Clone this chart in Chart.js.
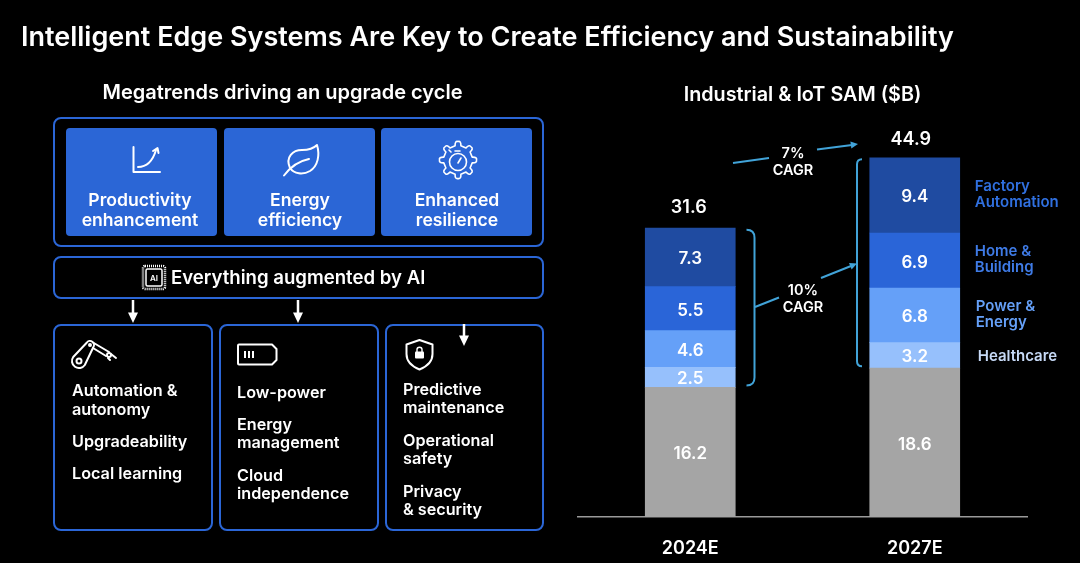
<!DOCTYPE html>
<html>
<head>
<meta charset="utf-8">
<title>Intelligent Edge Systems</title>
<script src="https://cdn.jsdelivr.net/npm/chart.js@4/dist/chart.umd.min.js"></script>
<style>
  html, body { margin: 0; padding: 0; background: #000; }
  #page { position: relative; width: 1080px; height: 563px; overflow: hidden; background: #000; font-family: Inter, sans-serif; color: #fff; font-weight: 600; }
  #page canvas { position: absolute; left: 0; top: 0; }
  #page svg { position: absolute; left: 0; top: 0; }
  .box { position: absolute; box-sizing: border-box; border: 2.5px solid #2b66d6; border-radius: 8px; }
  .tile { position: absolute; background: #2b66d6; border-radius: 4px; top: 128px; width: 151px; height: 107.5px; }
  .t { position: absolute; white-space: nowrap; line-height: 20px; height: 20px; }
  .c { transform: translateX(-50%); text-align: center; }
  .tile-text { font-size: 17.6px; }
  .item { font-size: 16.2px; }
</style>
</head>
<body>
<div id="page">
  <canvas id="chart" width="1080" height="563"></canvas>

  <div class="t" style="left:21px;top:26.500px;font-size:27px">Intelligent Edge Systems Are Key to Create Efficiency and Sustainability</div>
  <div class="t c" style="left:282.500px;top:82px;font-size:20px">Megatrends driving an upgrade cycle</div>

  <div class="box" style="left:53px;top:117px;width:491px;height:130px"></div>
  <div class="tile" style="left:66px"></div>
  <div class="tile" style="left:224px"></div>
  <div class="tile" style="left:381px"></div>
  <div class="t c tile-text" style="left:140px;top:189.500px">Productivity</div>
  <div class="t c tile-text" style="left:140px;top:209.500px">enhancement</div>
  <div class="t c tile-text" style="left:300px;top:189.500px">Energy</div>
  <div class="t c tile-text" style="left:300px;top:209.500px">efficiency</div>
  <div class="t c tile-text" style="left:457px;top:189.500px">Enhanced</div>
  <div class="t c tile-text" style="left:457px;top:209.500px">resilience</div>

  <div class="box" style="left:53px;top:256px;width:491px;height:43px"></div>
  <div class="t" style="left:171px;top:267px;font-size:18.600px">Everything augmented by AI</div>

  <div class="box" style="left:53px;top:324px;width:160px;height:207px"></div>
  <div class="box" style="left:219px;top:324px;width:160px;height:207px"></div>
  <div class="box" style="left:385px;top:324px;width:159px;height:207px"></div>

  <div class="t item" style="left:72px;top:379.500px">Automation &amp;</div>
  <div class="t item" style="left:72px;top:398.500px">autonomy</div>
  <div class="t item" style="left:72px;top:430.500px">Upgradeability</div>
  <div class="t item" style="left:72px;top:462.500px">Local learning</div>

  <div class="t item" style="left:237px;top:381.500px">Low-power</div>
  <div class="t item" style="left:237px;top:413.500px">Energy</div>
  <div class="t item" style="left:237px;top:431.500px">management</div>
  <div class="t item" style="left:237px;top:464.500px">Cloud</div>
  <div class="t item" style="left:237px;top:482.500px">independence</div>

  <div class="t item" style="left:403px;top:378.500px">Predictive</div>
  <div class="t item" style="left:403px;top:396.500px">maintenance</div>
  <div class="t item" style="left:403px;top:429.500px">Operational</div>
  <div class="t item" style="left:403px;top:447.500px">safety</div>
  <div class="t item" style="left:403px;top:480.500px">Privacy</div>
  <div class="t item" style="left:403px;top:498.500px">&amp; security</div>

  <svg id="icons" width="1080" height="563" fill="none" stroke="#fff" stroke-width="2" stroke-linecap="round" stroke-linejoin="round">
    <!-- growth chart -->
    <path d="M133.500 147V172H160"/>
    <path d="M138 167C148 167 153 160 156 150"/>
    <path d="M153 151L157.500 148L158.500 153"/>
    <!-- leaf -->
    <path d="M284 175.500C291 166 299 161 309 159"/>
    <path d="M290 168C285 157 293 150 302 150C309 150 314 148 317 145C320 155 318 166 310 171C303 175 294 174 290 168Z"/>
    <!-- gear with stopwatch -->
    <path id="gear" stroke-width="1.600"/>
    <circle cx="458" cy="162" r="8.500" stroke-width="1.600"/>
    <path d="M458 163L461 158" stroke-width="1.600"/>
    <path d="M455 151H460M451 152L449 150" stroke-width="1.600"/>
    <!-- AI chip -->
    <rect x="146" y="269" width="16" height="17" rx="1.500" stroke-width="1.500"/>
    <rect x="143" y="266" width="22" height="23" rx="2" stroke-width="2.500" stroke-dasharray="1 1" stroke-linecap="butt"/>
    <text x="154" y="281" fill="#fff" stroke="none" font-size="8" text-anchor="middle" font-weight="600">AI</text>
    <!-- robot arm -->
    <path d="M73.200 357L86.700 342.700A4 4 0 0 1 93.300 347.300L84.800 365A7 7 0 0 1 73.200 357Z"/>
    <circle cx="79" cy="361" r="2.500"/>
    <circle cx="90" cy="345" r="1"/>
    <path d="M93 342.500L109 352M93 348L106 356"/>
    <circle cx="109" cy="355" r="2"/>
    <path d="M111 354L116 358M108 358L110 360"/>
    <!-- battery -->
    <path d="M239 344.500H272L276.500 349V360L272 364.500H239Q238 364.500 238 363.500V345.500Q238 344.500 239 344.500Z"/>
    <path d="M245 351V358M249 351V358M253 351V358" stroke-width="2" stroke-linecap="butt"/>
    <!-- shield with lock -->
    <path d="M419.500 340L432.500 344.500V354C432.500 361 427 366.500 419.500 369.500C412 366.500 406.500 361 406.500 354V344.500Z"/>
    <rect x="415" y="351.500" width="9" height="7" rx="1" fill="#fff" stroke="none"/>
    <path d="M417 352V349.500C417 346.500 422 346.500 422 349.500V352" stroke-width="1.400"/>
    <!-- down arrows -->
    <path d="M133 300V313M298 300V313M464 324V336" stroke-width="2.500" stroke-linecap="butt"/>
    <path d="M128 312.500H138L133 323ZM293 312.500H303L298 323ZM459 335.500H469L464 346Z" fill="#fff" stroke="none"/>
  </svg>
</div>

<script>
const categories = ['2024E', '2027E'];
const totals = [31.6, 44.9];
const other = [16.2, 18.6];
const healthcare = [2.5, 3.2];
const powerEnergy = [4.6, 6.8];
const homeBuilding = [5.5, 6.9];
const factoryAutomation = [7.3, 9.4];

const chartTitle = 'Industrial & IoT SAM ($B)';
const FONT = 'Inter, sans-serif';
const BRACKET = '#41a3d8';

// gear outline for the resilience icon
(function drawGear() {
  const cx = 458, cy = 160, teeth = 8;
  let d = '';
  for (let i = 0; i < teeth; i++) {
    const a0 = (i / teeth) * Math.PI * 2 - Math.PI / 2;
    const step = (Math.PI * 2) / teeth;
    const pt = (r, a) => (cx + r * Math.cos(a)).toFixed(1) + ' ' + (cy + r * Math.sin(a)).toFixed(1);
    d += (i === 0 ? 'M' : 'L') + pt(14.5, a0 - step * 0.26);
    d += 'Q' + pt(19.5, a0 - step * 0.2) + ' ' + pt(18.5, a0);
    d += 'Q' + pt(19.5, a0 + step * 0.2) + ' ' + pt(14.5, a0 + step * 0.26);
  }
  document.getElementById('gear').setAttribute('d', d + 'Z');
})();

function line(ctx, x1, y1, x2, y2) {
  ctx.beginPath();
  ctx.moveTo(x1, y1);
  ctx.lineTo(x2, y2);
  ctx.stroke();
}

function arrowHead(ctx, x1, y1, x2, y2) {
  const a = Math.atan2(y2 - y1, x2 - x1);
  ctx.beginPath();
  ctx.moveTo(x2, y2);
  ctx.lineTo(x2 - 8 * Math.cos(a - 0.45), y2 - 8 * Math.sin(a - 0.45));
  ctx.lineTo(x2 - 8 * Math.cos(a + 0.45), y2 - 8 * Math.sin(a + 0.45));
  ctx.closePath();
  ctx.fill();
}

// side = 1 opens to the left, -1 opens to the right
function bracket(ctx, x, top, bottom, side) {
  const r = side > 0 ? 8 : 5;
  ctx.beginPath();
  ctx.moveTo(x - side * r, top);
  ctx.quadraticCurveTo(x, top, x, top + r);
  ctx.lineTo(x, bottom - r);
  ctx.quadraticCurveTo(x, bottom, x - side * r, bottom);
  ctx.stroke();
}

const annotations = {
  id: 'annotations',
  afterDatasetsDraw(chart) {
    const ctx = chart.ctx;
    const y = chart.scales.y;
    ctx.save();
    ctx.textAlign = 'center';
    ctx.textBaseline = 'middle';

    // segment values
    ctx.fillStyle = '#fff';
    ctx.font = '600 17px ' + FONT;
    chart.data.datasets.forEach((ds, d) => {
      chart.getDatasetMeta(d).data.forEach((bar, i) => {
        const p = bar.getCenterPoint();
        ctx.fillText(ds.data[i].toFixed(1), p.x, p.y + 2);
      });
    });

    // totals above the stacks
    ctx.font = '600 18px ' + FONT;
    const topMeta = chart.getDatasetMeta(chart.data.datasets.length - 1);
    totals.forEach((v, i) => {
      const bar = topMeta.data[i];
      ctx.fillText(v.toFixed(1), bar.x - (i ? 4 : 1.5), bar.y - (i ? 18 : 21));
    });

    // segment names beside the 2027 stack
    ctx.textAlign = 'left';
    ctx.font = '600 15px ' + FONT;
    chart.data.datasets.forEach((ds, d) => {
      if (!ds.nameLines) return;
      const bar = chart.getDatasetMeta(d).data[1];
      const p = bar.getCenterPoint();
      const x = bar.x + 60;
      ctx.fillStyle = ds.nameColor;
      ds.nameLines.forEach((txt, k) => {
        const off = (k - (ds.nameLines.length - 1) / 2) * 16.5;
        ctx.fillText(txt, x + ds.nameShift, p.y + off - (ds.nameLines.length > 1 ? 1 : -1));
      });
    });

    // brackets follow the coloured part of each stack
    ctx.strokeStyle = BRACKET;
    ctx.fillStyle = BRACKET;
    ctx.lineWidth = 2;
    const upper = (i) => other[i] + healthcare[i] + powerEnergy[i] + homeBuilding[i] + factoryAutomation[i];
    bracket(ctx, 754.5, y.getPixelForValue(upper(0)) + 1.5, y.getPixelForValue(other[0]) - 2, 1);
    bracket(ctx, 857, y.getPixelForValue(upper(1)) + 1.5, y.getPixelForValue(other[1]) - 2, -1);

    // CAGR connectors
    line(ctx, 733, 163, 769, 158);
    line(ctx, 817, 149.5, 852, 145);
    arrowHead(ctx, 817, 149.5, 858, 144);
    line(ctx, 755, 307, 779, 297.5);
    line(ctx, 821, 278, 851, 266);
    arrowHead(ctx, 821, 278, 857, 263.5);

    ctx.fillStyle = '#fff';
    ctx.textAlign = 'center';
    ctx.font = '600 14.5px ' + FONT;
    ctx.fillText('7%', 793, 154);
    ctx.fillText('CAGR', 793, 171);
    ctx.fillText('10%', 803, 291);
    ctx.fillText('CAGR', 803, 308);
    ctx.restore();
  }
};

new Chart(document.getElementById('chart').getContext('2d'), {
  type: 'bar',
  data: {
    labels: categories,
    datasets: [
      { label: 'Other', data: other, backgroundColor: '#a5a5a5' },
      { label: 'Healthcare', data: healthcare, backgroundColor: '#96c0fc', nameLines: ['Healthcare'], nameColor: '#c6d9f6', nameShift: 3 },
      { label: 'Power & Energy', data: powerEnergy, backgroundColor: '#65a0f8', nameLines: ['Power &', 'Energy'], nameColor: '#65a0f8', nameShift: 1 },
      { label: 'Home & Building', data: homeBuilding, backgroundColor: '#2a65d8', nameLines: ['Home &', 'Building'], nameColor: '#3f7be6', nameShift: 0 },
      { label: 'Factory Automation', data: factoryAutomation, backgroundColor: '#1f4ba1', nameLines: ['Factory', 'Automation'], nameColor: '#3070e0', nameShift: 0 },
    ],
  },
  options: {
    responsive: false,
    animation: false,
    layout: { padding: { left: 578, right: 53, top: 0, bottom: 0 } },
    datasets: { bar: { barThickness: 90 } },
    scales: {
      x: {
        stacked: true,
        afterFit(scale) { scale.height = 46; },
        grid: { display: false, drawTicks: false },
        border: { display: true, color: '#9a9a9a', width: 1.5 },
        ticks: { color: '#fff', padding: 21, font: { family: FONT, size: 18, weight: '600' } },
      },
      y: { stacked: true, display: false, min: 0, max: 50 },
    },
    plugins: {
      legend: { display: false },
      tooltip: { enabled: false },
      title: {
        display: true,
        text: chartTitle,
        color: '#fff',
        font: { family: FONT, size: 19.8, weight: '600', lineHeight: 1.2 },
        padding: { top: 83, bottom: 10.2 },
      },
    },
  },
  plugins: [annotations],
});
</script>
</body>
</html>
